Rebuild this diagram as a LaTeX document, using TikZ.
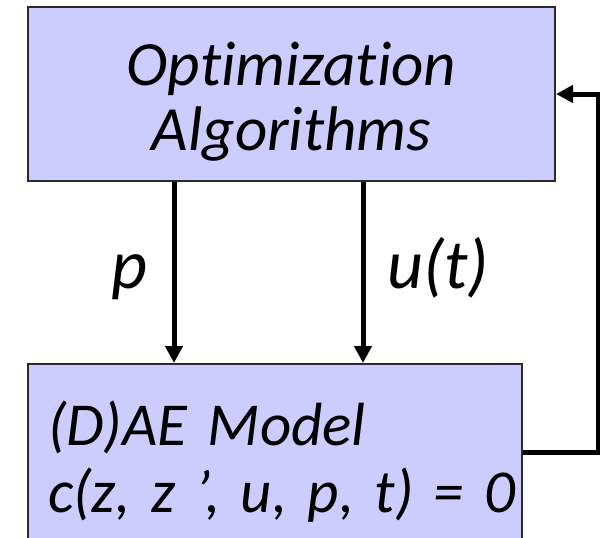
\documentclass[tikz,border=0pt]{standalone}
\usepackage{fontspec}
\setmainfont{Carlito}[Ligatures=NoCommon]
\usetikzlibrary{arrows.meta}
\definecolor{boxfill}{HTML}{CCCCFF}
\definecolor{boxline}{HTML}{2A2A2A}

\begin{document}
\begin{tikzpicture}[x=1pt,y=-1pt,
    block/.style={draw=boxline,line width=2pt,fill=boxfill,inner ysep=0pt},
    flow/.style={line width=5pt,-{Triangle[length=17pt,width=17pt]}},
    lbl/.style={font=\fontsize{70}{70}\selectfont\itshape}]
  \useasboundingbox (0,0) rectangle (600,538);
  \node[block,font=\fontsize{63}{65}\selectfont\itshape,minimum width=527pt,
    text height=143pt,text depth=31pt,align=center]
    (opt) at (291.5,94) {Optimization\\Algorithms};
  \node[block,font=\fontsize{61}{67}\selectfont\itshape,inner xsep=20pt,
    text width=454pt,text height=81pt,text depth=103pt,align=left]
    (dae) at (275,456) {(D)AE Model\\\mbox{c(z, z ’, u, p, t) = 0}};
  \coordinate (pX) at (174,0);
  \coordinate (uX) at (363,0);
  \coordinate (fb) at (598,452);
  \draw[flow] (opt.south -| pX) -- (dae.north -| pX);
  \draw[flow] (opt.south -| uX) -- (dae.north -| uX);
  \draw[flow] (dae.east |- fb) -- (fb) |- (opt.east);
  \node[lbl,anchor=base] (plbl) at (129,288) {p};
  \node[lbl,anchor=base] (ulbl) at (438,288) {u(t)};
\end{tikzpicture}
\end{document}
